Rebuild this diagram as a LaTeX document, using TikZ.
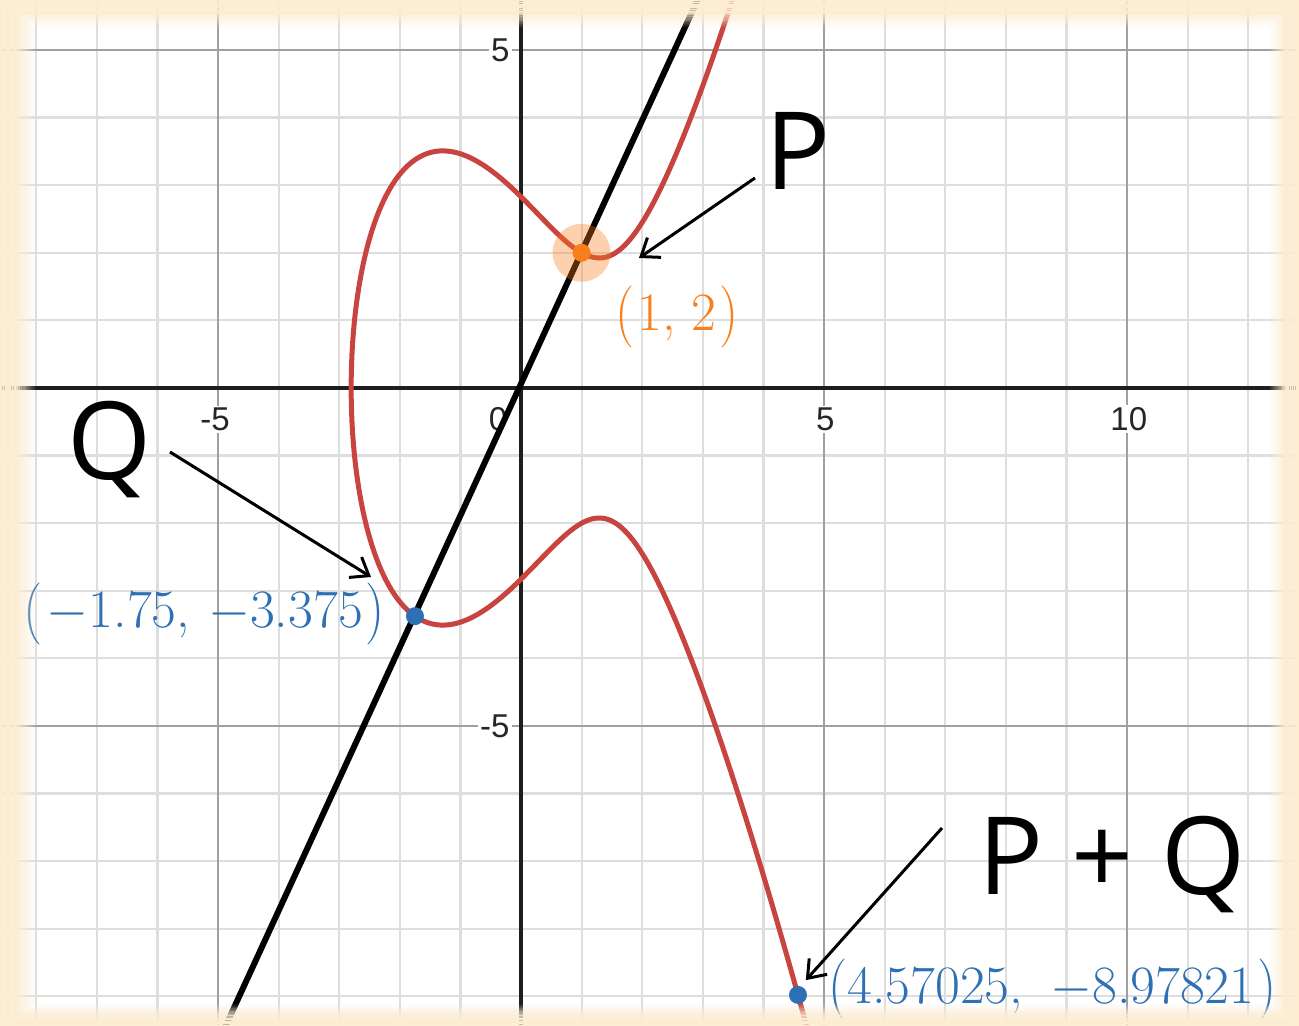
\RequirePackage{fix-cm}
\documentclass[tikz,border=0pt]{standalone}
\usepackage{graphicx}
\usepackage{fontspec}
\newfontfamily\bigfont{Open Sans}
\newfontfamily\axfont{Liberation Sans}
\usetikzlibrary{arrows.meta}
\definecolor{cream}{RGB}{252,236,208}
\definecolor{curvered}{RGB}{199,68,64}
\definecolor{dorange}{RGB}{250,126,25}
\definecolor{dblue}{RGB}{45,112,179}
\definecolor{minorgrid}{RGB}{222,222,222}
\definecolor{majorgrid}{RGB}{160,160,160}
\definecolor{axiscol}{RGB}{30,30,30}
\newcommand{\lpar}{\raisebox{-0.0375em}{\scalebox{1}[1.15]{(}}}
\newcommand{\rpar}{\raisebox{-0.0375em}{\scalebox{1}[1.15]{)}}}
\newcommand{\mminus}{$-$}
\tikzset{
  minorline/.style={minorgrid, line width=1.1pt},
  majorline/.style={majorgrid, line width=1.1pt},
  axisline/.style={axiscol, line width=2pt},
  curveline/.style={curvered, line width=2.5pt},
  secant/.style={black, line width=3pt},
  dot/.style={circle, inner sep=0pt, minimum size=9pt},
  halo/.style={circle, inner sep=0pt, minimum size=29pt, fill=dorange, opacity=0.35},
  arr/.style={black, line width=1.5pt, -{Straight Barb[length=8pt,width=12pt]}},
  ticklab/.style={font=\axfont\fontsize{16.5}{18}\selectfont, text=black!85, fill=white, inner sep=1pt},
  bigname/.style={font=\bigfont\fontsize{54}{60}\selectfont, text=black, anchor=base, inner sep=0pt, text depth=0pt},
  coordlab/.style={font=\fontsize{27}{32}\selectfont, inner sep=0pt},
}
\begin{document}
\begin{tikzpicture}[x=0.5pt,y=0.5pt]
\useasboundingbox (0,0) rectangle (1299,1026);
\fill[white] (0,0) rectangle (1299,1026);
\begin{scope}
\clip (0,0) rectangle (1299,1026);
\begin{scope}[shift={(521,638)}, x=30.3pt, y=33.8pt]
  % grid
  \foreach \k in {-8,...,12} \draw[minorline] (\k,-9.6) -- (\k,5.9);
  \foreach \k in {-9,...,5} \draw[minorline] (-8.8,\k) -- (13,\k);
  \foreach \k in {-5,5,10} \draw[majorline] (\k,-9.6) -- (\k,5.9);
  \foreach \k in {-5,5} \draw[majorline] (-8.8,\k) -- (13,\k);
  \draw[axisline] (-8.8,0) -- (13,0);
  \draw[axisline] (0,-9.6) -- (0,5.9);
  % tick labels
  \node[ticklab] (tx1) at (-5.05,-0.46) {-5};
  \node[ticklab] (tx0) at (-0.38,-0.46) {0};
  \node[ticklab] (tx2) at (5.02,-0.46) {5};
  \node[ticklab] (tx3) at (10.03,-0.46) {10};
  \node[ticklab, anchor=east] (ty1) at (-0.15,5) {5};
  \node[ticklab, anchor=east] (ty2) at (-0.15,-5) {-5};
  % curve y^2 = x^3 - 5x + 8
  \draw[curveline] plot[domain=-2.76:2.54, samples=300, smooth, variable=\t]
    ({-2.80259+\t*\t}, {\t*sqrt(18.5636-8.40777*\t*\t+\t*\t*\t*\t)});
  % secant line
  \coordinate (L1) at (-4.95,-9.5845);
  \coordinate (L2) at (3.0,5.9091);
  \draw[secant] (L1) -- (L2);
  % points
  \node[halo] (Ph) at (1,2) {};
  \node[dot, fill=dorange] (P) at (1,2) {};
  \node[dot, fill=dblue] (Q) at (-1.75,-3.375) {};
  \node[dot, fill=dblue] (R) at (4.57025,-8.97821) {};
  % coordinate labels
  \node[coordlab, text=dorange, anchor=west] (Plab) at (1.551,1.05)
    {\lpar\hspace{0.05em}1,\hspace{0.3em}2\hspace{0.05em}\rpar};
  \node[coordlab, text=dblue, anchor=east] (Qlab) at (-2.244,-3.343)
    {\lpar\hspace{0.08em}\mminus1.75,\hspace{0.333em}\mminus3.375\hspace{0.05em}\rpar};
  \node[coordlab, text=dblue, anchor=west] (Rlab) at (5.066,-8.905)
    {\lpar4.57025,\hspace{0.5em}\mminus8.97821\hspace{0.05em}\rpar};
  % big names
  \node[bigname] (Pname) at (4.571,2.929) {P};
  \node[bigname] (Qname) at (-6.782,-1.361) {Q};
  \node[bigname] (Rname) at (9.753,-7.50) {P + Q};
  % arrows
  \coordinate (Pt) at (3.861,3.107);
  \coordinate (Pa) at (1.947,1.923);
  \coordinate (Qt) at (-5.792,-0.947);
  \coordinate (Qa) at (-2.475,-2.796);
  \coordinate (Rt) at (6.947,-6.509);
  \coordinate (Ra) at (4.70,-8.76);
  \draw[arr] (Pt) -- (Pa);
  \draw[arr] (Qt) -- (Qa);
  \draw[arr] (Rt) -- (Ra);
\end{scope}
% soft cream frame
\foreach \i in {0,...,15}{
  \pgfmathsetmacro{\a}{\i/16}
  \pgfmathsetmacro{\b}{(\i+1)/16}
  \pgfmathsetmacro{\op}{min(1,1.7*(1-(\i+0.5)/16))}
  \fill[cream, opacity=\op, even odd rule]
    ({36*\a},{22*\a}) rectangle ({1299-30*\a},{1026-28*\a})
    ({36*\b},{22*\b}) rectangle ({1299-30*\b},{1026-28*\b});
}
\end{scope}
\end{tikzpicture}
\end{document}
